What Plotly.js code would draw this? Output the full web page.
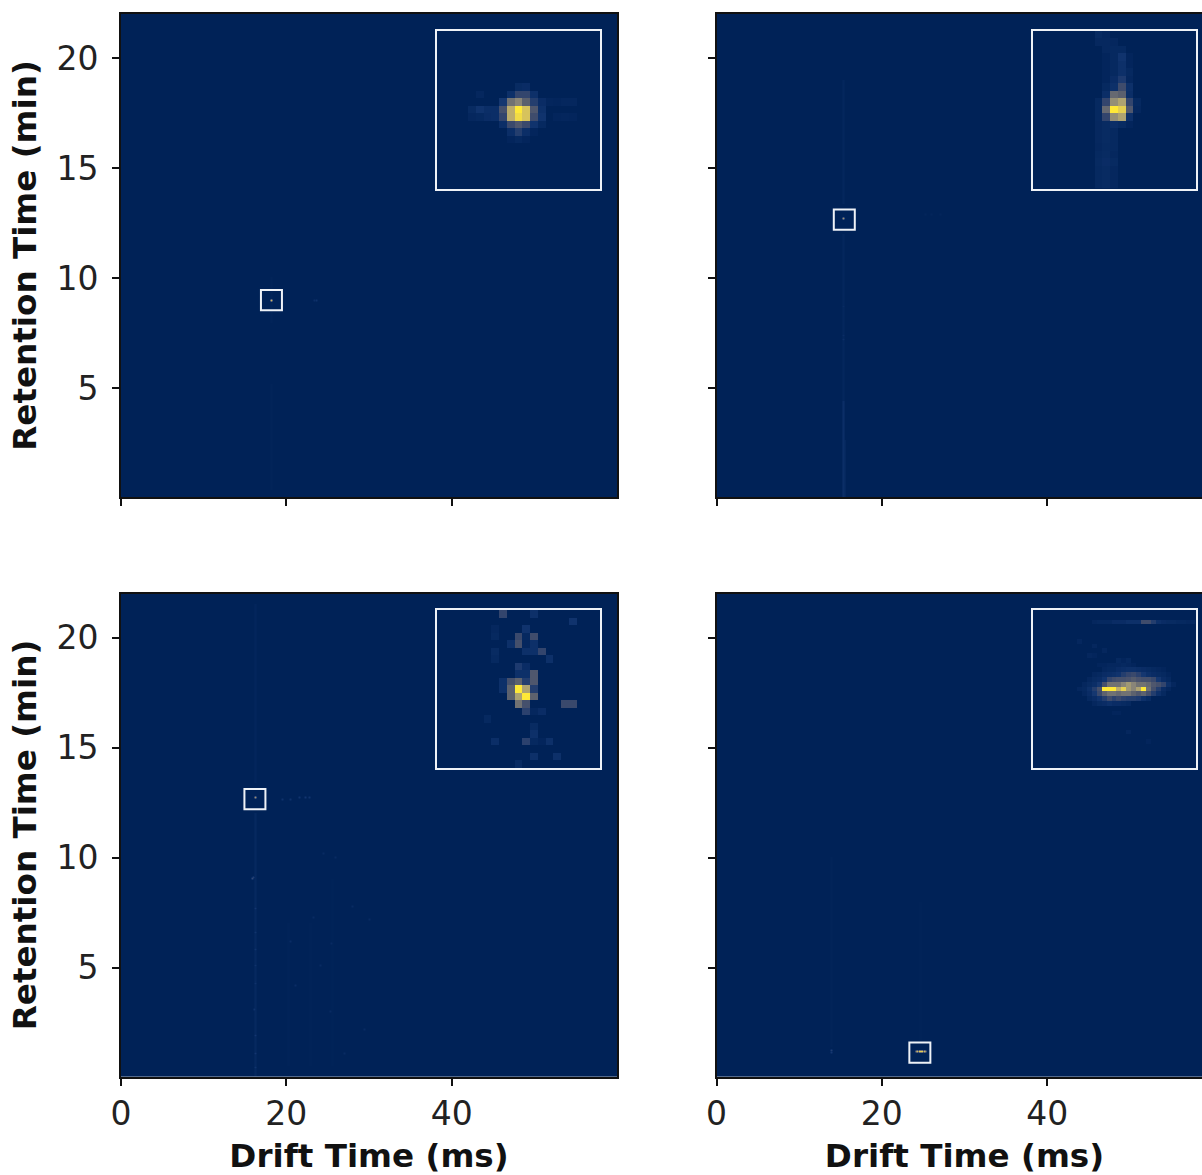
<!DOCTYPE html>
<html><head><meta charset="utf-8">
<script src="https://cdn.plot.ly/plotly-3.0.1.min.js"></script>
<style>html,body{margin:0;padding:0;background:#fff;overflow:hidden;width:1202px;height:1175px}#c{width:1214px;height:1175px}</style>
</head><body><div id="c"></div>
<script>
const xTicks=[0,20,40];
const yTicks=[5,10,15,20];
const xLabel='Drift Time (ms)';
const yLabel='Retention Time (min)';
const cividis=['#002257','#123570','#3b496c','#575d6d','#707173','#8a8678','#a59c74','#c3b369','#e1cc55','#fee838'];

// highlighted box centre in each panel (drift time, retention time)
const boxDt=[18.2,15.46,16.2,24.6];
const boxRt=[9.0,12.66,12.66,1.13];

// individual bright spots in each main panel: drift, retention, intensity
const spots1=[[18.2,9.0,8],[23.7,9.0,0.9],[23.5,9.0,0.7]];
const spots2=[[15.46,12.7,6],[15.4,8.7,0.5],[15.4,7.2,0.7],[15.4,7.4,0.6],[25.2,12.9,0.2],[26,12.9,0.2],[27,12.9,0.2]];
const spots3=[[16.2,12.7,6],[15.9,9.05,2.2],[16,9.1,1.6],[19.5,12.65,0.9],[20.5,12.65,0.9],[21.5,12.7,1],[22.3,12.7,1.1],[22.8,12.7,1],
 [16.3,7.7,1.1],[16.2,6.6,1],[16.3,5.8,1],[16.2,5.1,0.9],[16.3,4.3,0.9],[16.1,3.1,1],[16.2,1.9,1.1],[16.3,1.1,1.1],[16.2,0.5,1],
 [20.5,6.2,0.6],[23.3,7.3,0.5],[25.5,6.1,0.5],[24.2,5.1,0.5],[21,4.2,0.6],[25.4,3.0,0.5],[27,1.1,0.5],[29.5,2.2,0.5],[28,7.8,0.5],[30,7.2,0.5],[24.5,10.2,0.5],[26,10.0,0.5]];
const spots4=[[24.2,1.16,6],[24.35,1.16,8],[24.5,1.16,9],[24.65,1.16,9],[24.8,1.16,9],[24.95,1.16,9],[25.1,1.16,8],[25.25,1.16,6],[13.8,1.2,1.6],[13.9,1.15,1.2]];

// faint vertical streaks: drift, retention start, retention end, intensity
const streaks1=[[18.2,0.4,5.2,0.1],[18.2,8,10,0.1]];
const streaks2=[[15.4,0.05,4.4,0.7],[15.5,0.05,2.6,0.5],[15.4,4.4,12,0.25],[15.4,13.4,19,0.25]];
const streaks3=[[16.2,0.05,12,0.35],[16.3,13.4,21.5,0.2],[20.2,0.6,7,0.07],[23,0.6,7,0.06],[25.6,0.6,9,0.05]];
const streaks4=[[13.8,1.4,10,0.1],[24.6,1.7,8,0.06]];

// inset pixels: [row, first column, values...], rows counted from the top
const inset1=[
[7,10,0.5,0.6],[8,5,0.3],[8,9,0.8,2,2,0.8],
[9,8,1.2,4.5,5.5,3.5,1.6,0.6],[9,14,0.25,0.2,0.3,0.3],
[10,4,0.5,1,0.7,0.7,2.6,7.5,10,8.5,3,0.8],
[11,4,0.3,0.4,0.6,0.7,2,7.5,9.5,8.5,2.4,1],[11,15,0.2,0.25,0.2],
[12,8,0.7,2.2,3,2.2,1,0.4],[13,9,0.7,1.6,0.7,0.2],[14,9,0.2,0.4,0.2]];
const inset2=[
[0,8,0.5,0.3],[1,8,0.35,0.35,0.3],[2,9,0.35,0.4,0.4],[3,9,0.2,0.4,1,0.2],[4,9,0.2,0.4,0.8,0.2],[5,9,0.2,0.4,0.8,0.4],[6,9,0.2,0.6,1.4,0.3],
[7,9,0.4,0.8,2.4,0.8],[8,9,0.7,4,3.5,0.7],[9,8,0.4,2,6,7,2,0.4],[10,8,0.4,4,10,9,3,0.3],[11,8,0.4,2,6,7,0.8],[12,8,0.35,0.5,0.7,0.5,0.2],
[13,8,0.35,0.5,0.4],[14,8,0.35,0.5,0.4],[15,8,0.3,0.45,0.4],[16,8,0.4,0.5,0.3],[17,8,0.45,0.6,0.45],[18,8,0.4,0.5,0.3],[19,8,0.4,0.5,0.3],[20,8,0.4,0.5,0.3]];
const inset3=[
[0,8,2],[0,12,0.8],[1,17,1],[2,11,1],[2,7,0.3],[3,10,2.2,0.4,2.4],[3,7,0.4],[4,9,0.8,2.6,0.3,0.8],[5,7,0.5],[5,11,0.8,0.8,2],[6,7,0.4],[6,14,0.8],
[7,10,1.4,0.6],[8,10,0.8,0.8,3],[9,8,0.8,2.6,3.6,1.6,3],[10,8,0.8,3.6,10,7,1.6],[11,9,3.6,7,10,3.6],[12,10,4.5,2.6],[12,16,2.2,2.2],[13,11,1.8,0.3,0.6],[14,6,0.4],
[15,12,0.5],[16,12,0.8],[17,7,0.7],[17,11,1.8,0.4,0.2,0.8],[19,12,0.8],[19,15,0.8],[20,10,0.5]];
const inset4=[
[2,12,0.3,0.4,0.4,0.4,0.6,0.6,0.6,0.8,0.8,0.8,2.4,2.4,1.6,0.8,0.6,0.5,0.5,0.4,0.4,0.3,0.4],
[6,9,0.3],[7,12,0.3],[8,14,0.3],[9,11,0.3,0.2],[10,17,0.4,0.2,0.4],[11,13,0.2,0.2,0.3,0.3,0.3,0.4,0.3,0.2],
[12,14,0.3,0.4,0.4,0.6,0.7,0.8,0.8,0.7,0.6,0.5,0.4,0.3,0.2],
[13,12,0.3,0.4,0.6,0.7,0.8,1,1.6,2,2.2,1.8,1.2,0.8,0.6,0.5,0.4,0.2],
[14,11,0.3,0.5,0.6,1,2,2.4,2.6,2.6,2.8,3.2,2.8,2.6,2.6,2.2,1.2,0.6,0.4],
[15,10,0.3,0.5,0.7,1.2,2.6,4.5,4.5,4.5,5.5,6.5,5.5,4.5,4.5,4,3,2.6,2,0.8,0.3],
[16,9,0.3,0.4,0.8,1.6,2.6,10,10,10,7.5,9,6.5,5.5,7,10,4.5,2.6,1.6,0.6,0.3],
[17,10,0.3,0.6,1.2,2.2,3.6,4.5,4.5,4,4.5,4.5,3.6,3,3.6,2.6,1.6,0.8,0.4],
[18,11,0.4,0.6,1,1.6,2.4,1.8,2.2,1.8,1.6,1.6,1.4,0.8,0.5],
[19,12,0.3,0.5,0.6,0.8,0.6,0.6,0.5,0.4],[21,16,0.2,0.2],[25,19,0.3],[27,23,0.2]];
const insetSizes=[21,21,21,33];

const W=1214,H=1175;
const mainLeft=[121,716.5],mainW=496,rowTop=[14,593.5],mainH=483;
const inLeftOff=316,inTopOff=16.5,inW=163,inH=158;
const X0=0,X1=60,Y0=0.05,Y1=22;
const dtStep=0.12,rtStep=0.046;

function mainZ(spots,streaks){
  const nx=Math.round((X1-X0)/dtStep),ny=Math.round((Y1-Y0)/rtStep);
  const z=Array.from({length:ny},()=>new Array(nx).fill(0));
  const ix=d=>Math.floor((d-X0)/dtStep),iy=r=>Math.floor((r-Y0)/rtStep);
  const put=(j,i,v)=>{if(j>=0&&j<ny&&i>=0&&i<nx)z[j][i]=Math.max(z[j][i],v);};
  streaks.forEach(([d,a,b,v])=>{
    for(let j=iy(a);j<=Math.min(ny-1,iy(b));j++){put(j,ix(d),v);put(j,ix(d)+1,v*0.6);put(j,ix(d)-1,v*0.6);}
  });
  spots.forEach(([d,r,v])=>{
    const i=ix(d),j=iy(r);
    put(j,i,v);
    [[1,0],[-1,0],[0,1],[0,-1]].forEach(([a,b])=>put(j+a,i+b,v*0.5));
    [[1,1],[1,-1],[-1,1],[-1,-1]].forEach(([a,b])=>put(j+a,i+b,v*0.2));
  });
  const x=[...Array(nx).keys()].map(i=>X0+(i+0.5)*dtStep);
  const y=[...Array(ny).keys()].map(j=>Y0+(j+0.5)*rtStep);
  return {x,y,z};
}
function insetZ(rows,n){
  const z=Array.from({length:n},()=>new Array(n).fill(0));
  rows.forEach(([r,c,...vals])=>vals.forEach((v,k)=>{z[r][c+k]=v;}));
  return z;
}
const cs=cividis.map((c,i)=>[i/(cividis.length-1),c]);
const allSpots=[spots1,spots2,spots3,spots4],allStreaks=[streaks1,streaks2,streaks3,streaks4],allInsets=[inset1,inset2,inset3,inset4];
const data=[],layout={width:W,height:H,margin:{l:0,r:0,t:0,b:0},paper_bgcolor:'#fff',plot_bgcolor:cividis[0],showlegend:false,shapes:[],
  font:{family:'DejaVu Sans',color:'#222'}};
const px=(a,b)=>[a/W,b/W],py=(a,b)=>[1-b/H,1-a/H];
for(let p=0;p<4;p++){
  const col=p%2,row=p>>1,k=p+1,k2=p+5;
  const g=mainZ(allSpots[p],allStreaks[p]);
  data.push({type:'heatmap',x:g.x,y:g.y,z:g.z,zmin:0,zmax:10,colorscale:cs,showscale:false,xaxis:'x'+k,yaxis:'y'+k,hoverinfo:'skip'});
  const n=insetSizes[p];
  data.push({type:'heatmap',z:insetZ(allInsets[p],n),zmin:0,zmax:10,colorscale:cs,showscale:false,xaxis:'x'+k2,yaxis:'y'+k2,hoverinfo:'skip'});
  const L=mainLeft[col],T=rowTop[row];
  layout['xaxis'+k]={domain:px(L,L+mainW),range:[X0,X1],anchor:'y'+k,tickvals:xTicks,ticktext:row?xTicks.map(String):xTicks.map(()=>''),
    ticks:'outside',ticklen:7,tickwidth:2,tickcolor:'#111',showline:true,linecolor:'#111',linewidth:2,mirror:true,showgrid:false,zeroline:false,
    tickfont:{size:33,family:'DejaVu Sans',color:'#222'},
    title:row?{text:'<b>'+xLabel+'</b>',font:{size:32.6,family:'DejaVu Sans',color:'#111'},standoff:16}:undefined};
  layout['yaxis'+k]={domain:py(T,T+mainH),range:[Y0,Y1],anchor:'x'+k,tickvals:yTicks,ticktext:col?yTicks.map(()=>''):yTicks.map(String),
    ticks:'outside',ticklen:7,tickwidth:2,tickcolor:'#111',showline:true,linecolor:'#111',linewidth:2,mirror:true,showgrid:false,zeroline:false,
    ticklabelstandoff:7,
    tickfont:{size:33,family:'DejaVu Sans',color:'#222'},
    title:col?undefined:{text:'<b>'+yLabel+'</b>',font:{size:32.6,family:'DejaVu Sans',color:'#111'},standoff:10}};
  const iL=L+inLeftOff,iT=T+inTopOff;
  const inAxis={showticklabels:false,ticks:'',showgrid:false,zeroline:false,showline:true,mirror:true,linecolor:'#eef2f7',linewidth:2,range:[-0.5,n-0.5]};
  layout['xaxis'+k2]={...inAxis,domain:px(iL,iL+inW),anchor:'y'+k2};
  layout['yaxis'+k2]={...inAxis,domain:py(iT,iT+inH),anchor:'x'+k2,range:[n-0.5,-0.5]};
  layout.shapes.push({type:'rect',xref:'x'+k,yref:'y'+k,x0:boxDt[p]-1.27,x1:boxDt[p]+1.27,y0:boxRt[p]-0.46,y1:boxRt[p]+0.46,line:{color:'#eef2f7',width:2},layer:'above'});
}
Plotly.newPlot('c',data,layout,{displayModeBar:false,staticPlot:true});
</script></body></html>
